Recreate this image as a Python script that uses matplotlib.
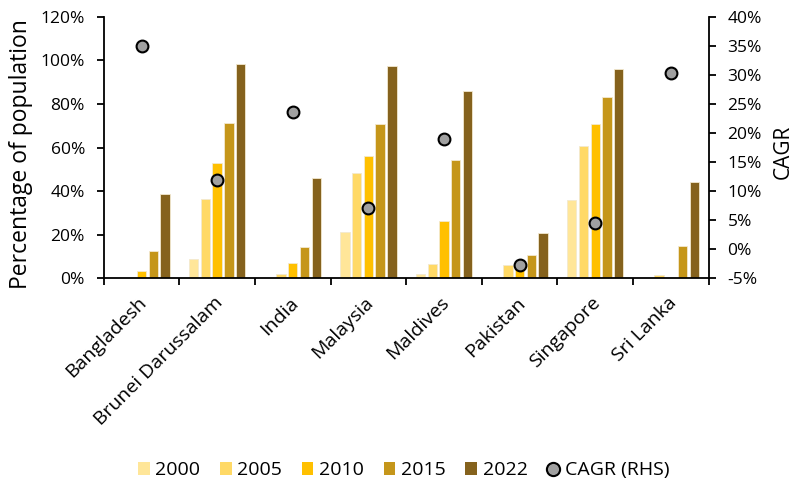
import numpy as np
import matplotlib
matplotlib.use("Agg")
import matplotlib.pyplot as plt
from matplotlib.ticker import FuncFormatter
from matplotlib.lines import Line2D
from matplotlib.patches import Patch

plt.rcParams["font.family"] = ["Open Sans", "DejaVu Sans"]

countries = ["Bangladesh", "Brunei Darussalam", "India", "Malaysia",
             "Maldives", "Pakistan", "Singapore", "Sri Lanka"]
years = ["2000", "2005", "2010", "2015", "2022"]

# share of population, % (left axis)
v2000 = [0.0, 8.9, 0.0, 21.2, 2.1, 0.0, 36.0, 0.3]
v2005 = [0.0, 36.3, 2.1, 48.5, 6.6, 6.2, 60.9, 1.5]
v2010 = [3.4, 52.8, 7.1, 56.1, 26.4, 6.0, 70.8, 0.0]
v2015 = [12.7, 71.1, 14.6, 70.8, 54.3, 10.8, 83.1, 14.9]
v2022 = [38.7, 98.2, 46.1, 97.4, 85.8, 20.9, 95.9, 44.2]

# compound annual growth rate, % (right axis)
cagr = [35.0, 12.0, 23.7, 7.1, 19.0, -2.7, 4.5, 30.3]

colors = ["#FFE699", "#FFD966", "#FFC000", "#C5961A", "#85621D"]

series = [v2000, v2005, v2010, v2015, v2022]
x = np.arange(len(countries))
step = 0.155
width = 0.124

pct = FuncFormatter(lambda v, p: f"{v:.0f}%")

fig = plt.figure(figsize=(7.96, 4.83), dpi=100)
ax = fig.add_axes([0.1303, 0.4234, 0.76, 0.542])

for i, (vals, col) in enumerate(zip(series, colors)):
    ax.bar(x + (i - 2) * step, vals, width=width, color=col,
           edgecolor="#F3E9CF", linewidth=0.6, zorder=2)

ax.set_xlim(-0.5, len(countries) - 0.5)
ax.set_ylim(0, 120)
ax.set_yticks(np.arange(0, 121, 20))
ax.yaxis.set_major_formatter(pct)
ax.set_xticks(np.arange(-0.5, len(countries), 1.0))
ax.set_xticklabels([])
ax.tick_params(axis="both", direction="out", length=5, width=1.3,
               labelsize=12.5, pad=8.5, colors="black")
ax.spines["top"].set_visible(False)
ax.spines["right"].set_visible(False)
for s in ["left", "bottom"]:
    ax.spines[s].set_linewidth(1.3)
ax.set_ylabel("Percentage of population", fontsize=16.5)
ax.yaxis.set_label_coords(-0.117, 0.476)

# rotated country names under each group
for xi, name in zip(x, countries):
    ax.text(xi - 0.05, -7, name, rotation=45, ha="right", va="top",
            rotation_mode="anchor", fontsize=14, clip_on=False)

ax2 = ax.twinx()
ax2.plot(x, cagr, "o", markersize=8.5, markerfacecolor="#A0A0A0",
         markeredgecolor="black", markeredgewidth=1.5, zorder=3)
ax2.set_ylim(-5, 40)
ax2.set_yticks(np.arange(-5, 41, 5))
ax2.yaxis.set_major_formatter(pct)
ax2.tick_params(axis="y", direction="out", length=5, width=1.3,
                labelsize=12.5, pad=8.5)
ax2.spines["top"].set_visible(False)
ax2.spines["left"].set_visible(False)
ax2.spines["bottom"].set_visible(False)
ax2.spines["right"].set_linewidth(1.3)
ax2.set_ylabel("CAGR", fontsize=15)
ax2.yaxis.set_label_coords(1.106, 0.483)

handles = [Patch(facecolor=c, edgecolor="none") for c in colors]
handles.append(Line2D([], [], marker="o", linestyle="none", markersize=9.5,
                      markerfacecolor="#A0A0A0", markeredgecolor="black",
                      markeredgewidth=1.5))
labels = years + ["CAGR (RHS)"]
fig.legend(handles, labels, loc="center", bbox_to_anchor=(0.507, 0.026),
           ncol=6, frameon=False, fontsize=14, handlelength=0.6,
           handleheight=0.6, handletextpad=0.3, columnspacing=1.0,
           borderpad=0)

fig.savefig("out.png", dpi=100)
